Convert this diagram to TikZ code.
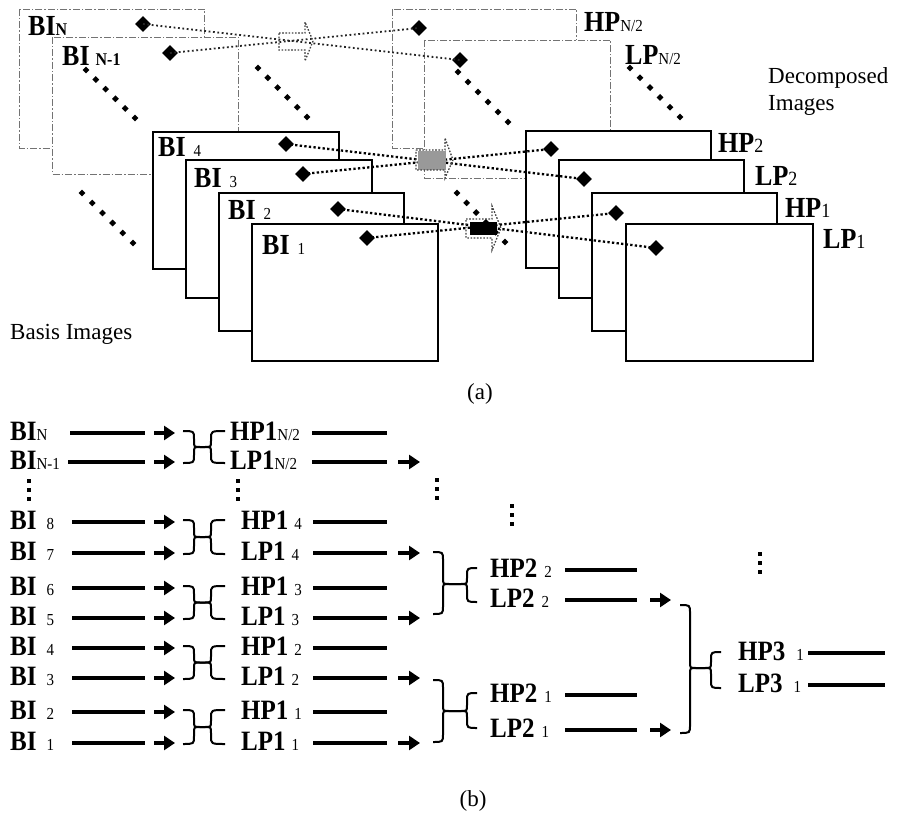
\documentclass[tikz,border=0pt]{standalone}
\usepackage{fontspec}
\setmainfont{Liberation Serif}
\usetikzlibrary{shapes.geometric,arrows.meta}
\newcommand{\myBig}{\fontsize{25}{30}\selectfont}
\newcommand{\myBigA}{\fontsize{26}{30}\selectfont}
\newcommand{\mySubR}{\fontsize{15}{18}\selectfont\mdseries}
\newcommand{\mySubB}{\fontsize{16}{18}\selectfont}
\newcommand{\mySubRt}{\fontsize{18}{20}\selectfont\mdseries}
\newcommand{\myCap}{\fontsize{23}{27}\selectfont}
\newcommand{\vstr}[1]{\scalebox{1}[1.12]{#1}}
\newcommand{\hbrace}[9]{%
\draw[bracestyle] (#1,#5) .. controls (#2,#5) .. (#2,#5+8) -- (#2,#9-6) .. controls (#2,#9) .. (#2+6,#9) -- (#3-6,#9) .. controls (#3,#9) .. (#3,#9-6) -- (#3,#7+8) .. controls (#3,#7) .. (#4,#7);
\draw[bracestyle] (#1,#6) .. controls (#2,#6) .. (#2,#6-8) -- (#2,#9+6) .. controls (#2,#9) .. (#2+6,#9) -- (#3-6,#9) .. controls (#3,#9) .. (#3,#9+6) -- (#3,#8-8) .. controls (#3,#8) .. (#4,#8);
}
\newcommand{\dotrow}[4]{%
\foreach \k in {0,...,5}{\fill ({#1+(#3-#1)*\k/5},{#2+(#4-#2)*\k/5}) +(0,-3.4) -- +(3.4,0) -- +(0,3.4) -- +(-3.4,0) -- cycle;}}
\tikzset{
  grayrect/.style={draw=black!55, line width=0.8pt, dash pattern=on 7pt off 2pt on 1.5pt off 2pt, fill=white},
  imgrect/.style={draw=black, line width=1.7pt, fill=white},
  dia/.style={diamond, fill=black, inner sep=0pt, minimum width=16pt, minimum height=16pt},
  conn/.style={line width=2.3pt, dash pattern=on 2.3pt off 2.3pt},
  connlight/.style={line width=1.8pt, dash pattern=on 1.8pt off 2.6pt, black!85},
  arrowoutline/.style={line width=1.3pt, dash pattern=on 1.6pt off 1.6pt, black!75},
  bline/.style={line width=3.3pt},
  barrow/.style={line width=3.3pt, -{Triangle[length=11pt,width=14pt]}},
  bracestyle/.style={line width=2pt},
  alab/.style={anchor=base west, inner sep=0pt, font=\myBigA\bfseries},
  blab/.style={anchor=base west, inner sep=0pt, font=\myBig\bfseries},
  captext/.style={inner sep=0pt, font=\myCap}
}
\begin{document}
\begin{tikzpicture}[x=1pt,y=-1pt]
\useasboundingbox (0,0) rectangle (901,818);
% ---------------- (a) ----------------
\draw[grayrect] (19,9) rectangle (204,148);
\draw[grayrect] (52,37) rectangle (238,174);
\draw[imgrect] (153,132) rectangle (339,269);
\draw[imgrect] (186,160) rectangle (372,298);
\draw[imgrect] (219,193) rectangle (404,331);
\draw[imgrect] (252,224) rectangle (438,361);
\draw[grayrect] (392,9) rectangle (576,148);
\draw[grayrect] (424,40) rectangle (610,178);
\draw[imgrect] (526,131) rectangle (711,268);
\draw[imgrect] (559,160) rectangle (744,298);
\draw[imgrect] (592,193) rectangle (777,331);
\draw[imgrect] (626,224) rectangle (813,361);
% diagonal dotted rows
\dotrow{86}{70}{135}{118}
\dotrow{258}{68}{307}{117}
\dotrow{82}{193}{133}{243}
\dotrow{458}{72}{508}{122}
\dotrow{630}{68}{680}{117}
\dotrow{457}{193}{505}{242}
% diamonds
\node[dia] (dBN) at (143,24) {};
\node[dia] (dBM) at (170,53) {};
\node[dia] (dB4) at (286,144) {};
\node[dia] (dB3) at (303,174) {};
\node[dia] (dB2) at (338,209) {};
\node[dia] (dB1) at (367,238) {};
\node[dia] (dHN) at (419,28) {};
\node[dia] (dLN) at (460,60) {};
\node[dia] (dH2) at (551,149) {};
\node[dia] (dL2) at (584,179) {};
\node[dia] (dH1) at (616,213) {};
\node[dia] (dL1) at (656,248) {};
% connectors
\draw[connlight] (dBN.center) -- (dLN.center);
\draw[connlight] (dBM.center) -- (dHN.center);
\draw[conn] (dB4.center) -- (dL2.center);
\draw[conn] (dB3.center) -- (dH2.center);
\draw[conn] (dB2.center) -- (dL1.center);
\draw[conn] (dB1.center) -- (dH1.center);
% crossing arrows
\draw[arrowoutline] (279,33) -- (305,33) -- (305,22) -- (313,41) -- (305,61) -- (305,50) -- (279,50) -- cycle;
\fill[black!40] (418,151) rectangle (446,170);
\draw[arrowoutline] (416,150) -- (445,150) -- (445,138) -- (453,160) -- (445,178) -- (445,170) -- (416,170) -- cycle;
\fill[black] (470,222) rectangle (497,235);
\draw[arrowoutline] (466,219) -- (492,219) -- (492,206) -- (501,228) -- (492,250) -- (492,238) -- (466,238) -- cycle;
% labels (a)
\node[alab] (lBN) at (28,36) {\vstr{BI{\mySubB N}}};
\node[alab] (lBM) at (62,66) {\vstr{BI\hspace{6pt}{\mySubB N-1}}};
\node[alab] (lB4) at (158,157) {\vstr{BI\hspace{8pt}{\mySubR 4}}};
\node[alab] (lB3) at (194,188) {\vstr{BI\hspace{8pt}{\mySubR 3}}};
\node[alab] (lB2) at (228,220) {\vstr{BI\hspace{8pt}{\mySubR 2}}};
\node[alab] (lB1) at (262,254) {\vstr{BI\hspace{8pt}{\mySubR 1}}};
\node[alab] (lHN) at (584,32) {\vstr{HP{\mySubR N/2}}};
\node[alab] (lLN) at (625,65) {\vstr{LP{\mySubR N/2}}};
\node[alab] (lH2) at (718,153) {\vstr{HP{\mySubRt 2}}};
\node[alab] (lL2) at (755,186) {\vstr{LP{\mySubRt 2}}};
\node[alab] (lH1) at (785,218) {\vstr{HP{\mySubRt 1}}};
\node[alab] (lL1) at (823,248) {\vstr{LP{\mySubRt 1}}};
\node[captext, anchor=north west, align=left] (dec) at (768,67) {Decomposed\\Images};
\node[captext, anchor=base west] (basis) at (10,339) {Basis Images};
\node[captext] (capa) at (480,394) {(a)};
% ---------------- (b) ----------------
\foreach \n/\y/\s in {N/433/70, M/462/68, 8/522/72, 7/553/72, 6/588/72, 5/618/72, 4/648/72, 3/678/72, 2/712/72, 1/743/72} {
  \coordinate (ls\n) at (\s,\y);
  \coordinate (le\n) at (145,\y);
  \coordinate (as\n) at (154,\y);
  \coordinate (ae\n) at (175,\y);
  \draw[bline] (ls\n) -- (le\n);
  \draw[barrow] (as\n) -- (ae\n);
}
\node[blab] (bN) at (10,440) {\vstr{BI{\mySubR N}}};
\node[blab] (bM) at (10,469) {\vstr{BI{\mySubR N-1}}};
\node[blab] (b8) at (10,529) {\vstr{BI\hspace{10pt}{\mySubR 8}}};
\node[blab] (b7) at (10,560) {\vstr{BI\hspace{10pt}{\mySubR 7}}};
\node[blab] (b6) at (10,595) {\vstr{BI\hspace{10pt}{\mySubR 6}}};
\node[blab] (b5) at (10,625) {\vstr{BI\hspace{10pt}{\mySubR 5}}};
\node[blab] (b4) at (10,655) {\vstr{BI\hspace{10pt}{\mySubR 4}}};
\node[blab] (b3) at (10,685) {\vstr{BI\hspace{10pt}{\mySubR 3}}};
\node[blab] (b2) at (10,719) {\vstr{BI\hspace{10pt}{\mySubR 2}}};
\node[blab] (b1) at (10,750) {\vstr{BI\hspace{10pt}{\mySubR 1}}};
% level-1 braces
\hbrace{183}{194}{211}{225}{431}{463}{431}{463}{447}
\hbrace{183}{194}{211}{225}{520}{554}{520}{554}{537}
\hbrace{183}{194}{211}{225}{586}{619}{586}{619}{602.5}
\hbrace{183}{194}{211}{225}{646}{679}{646}{679}{662.5}
\hbrace{183}{194}{211}{225}{710}{744}{710}{744}{727}
% level-1 outputs
\foreach \n/\y/\s in {hN/433/312, lN/462/312, h4/522/313, l4/553/313, h3/588/313, l3/618/313, h2/648/313, l2/678/313, h1/712/313, l1/743/313} {
  \coordinate (ps\n) at (\s,\y);
  \coordinate (pe\n) at (387,\y);
  \draw[bline] (ps\n) -- (pe\n);
}
\foreach \n/\y in {lN/462, l4/553, l3/618, l2/678, l1/743} {
  \coordinate (qs\n) at (398,\y);
  \coordinate (qe\n) at (420,\y);
  \draw[barrow] (qs\n) -- (qe\n);
}
\node[blab] (pHN) at (230,440) {\vstr{HP1{\mySubR N/2}}};
\node[blab] (pLN) at (230,469) {\vstr{LP1{\mySubR N/2}}};
\node[blab] (pH4) at (241,529) {\vstr{HP1\hspace{6pt}{\mySubR 4}}};
\node[blab] (pL4) at (241,560) {\vstr{LP1\hspace{6pt}{\mySubR 4}}};
\node[blab] (pH3) at (241,595) {\vstr{HP1\hspace{6pt}{\mySubR 3}}};
\node[blab] (pL3) at (241,625) {\vstr{LP1\hspace{6pt}{\mySubR 3}}};
\node[blab] (pH2) at (241,655) {\vstr{HP1\hspace{6pt}{\mySubR 2}}};
\node[blab] (pL2) at (241,685) {\vstr{LP1\hspace{6pt}{\mySubR 2}}};
\node[blab] (pH1) at (241,719) {\vstr{HP1\hspace{6pt}{\mySubR 1}}};
\node[blab] (pL1) at (241,750) {\vstr{LP1\hspace{6pt}{\mySubR 1}}};
% level-2
\hbrace{433}{443}{467}{477}{552}{614}{568}{602}{584}
\hbrace{433}{443}{467}{477}{680}{742}{693}{728}{711}
\foreach \n/\y in {h2/570, l2/600, h1/695, l1/730} {
  \coordinate (rs\n) at (565,\y);
  \coordinate (re\n) at (637,\y);
  \draw[bline] (rs\n) -- (re\n);
}
\foreach \n/\y in {l2/600, l1/730} {
  \coordinate (ts\n) at (650,\y);
  \coordinate (te\n) at (671,\y);
  \draw[barrow] (ts\n) -- (te\n);
}
\node[blab] (rH2) at (490,577) {\vstr{HP2\hspace{7pt}{\mySubR 2}}};
\node[blab] (rL2) at (490,607) {\vstr{LP2\hspace{7pt}{\mySubR 2}}};
\node[blab] (rH1) at (490,702) {\vstr{HP2\hspace{7pt}{\mySubR 1}}};
\node[blab] (rL1) at (490,737) {\vstr{LP2\hspace{7pt}{\mySubR 1}}};
% level-3
\hbrace{680}{690}{711}{721}{605}{733}{652}{688}{668}
\foreach \n/\y in {h/653, l/685} {
  \coordinate (us\n) at (808,\y);
  \coordinate (ue\n) at (885,\y);
  \draw[bline] (us\n) -- (ue\n);
}
\node[blab] (sH) at (738,660) {\vstr{HP3\hspace{11pt}{\mySubR 1}}};
\node[blab] (sL) at (738,692) {\vstr{LP3\hspace{11pt}{\mySubR 1}}};
% vertical dots
\foreach \x/\y in {29/490, 238/490, 437/489, 512/515, 760/563} {
  \foreach \d in {-9,0,9} {
    \fill (\x-2.2,\y+\d-2.2) rectangle (\x+2.2,\y+\d+2.2);
  }
}
\node[captext] (capb) at (473,801) {(b)};
\end{tikzpicture}
\end{document}
